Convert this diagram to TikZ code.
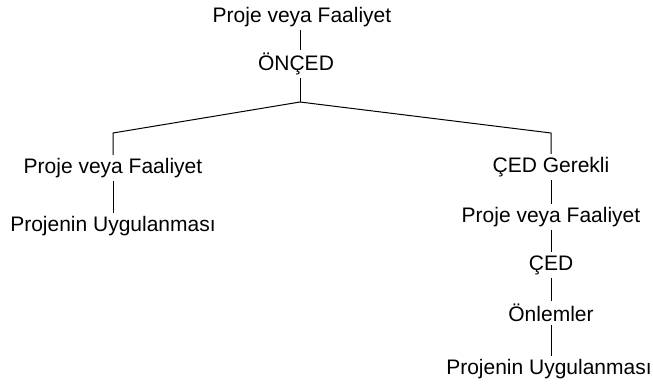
\documentclass[tikz,border=0pt]{standalone}
\usepackage{fontspec}
\setmainfont{Liberation Sans}
\usepackage{tikz}
\tikzset{kutu/.style={inner sep=3pt, font=\fontsize{21}{25}\selectfont},
	hat/.style={line width=1pt}}

\begin{document}
\begin{tikzpicture}[x=1pt,y=-1pt]
	\useasboundingbox (0,0) rectangle (653,389);
	% ust kisim
	\node[kutu] (proje) at (302,17) {Proje veya Faaliyet};
	\node[kutu] (onced) at (296,64) {ÖNÇED};
	\coordinate (tepe) at (300,102);
	\coordinate (solkose) at (113,133);
	\coordinate (sagkose) at (551,133);
	% sol kol
	\node[kutu] (solproje) at (113,168) {Proje veya Faaliyet};
	\node[kutu] (soluyg) at (113,226) {Projenin Uygulanması};
	% sag kol
	\node[kutu] (gerekli) at (551,167) {ÇED Gerekli};
	\node[kutu] (sagproje) at (551,217) {Proje veya Faaliyet};
	\node[kutu] (ced) at (551,265) {ÇED};
	\node[kutu] (onlem) at (551,313) {Önlemler};
	\node[kutu] (saguyg) at (549,369) {Projenin Uygulanması};
	% baglantilar
	\draw[hat] (tepe |- proje.south) -- (tepe |- onced.north);
	\draw[hat] (tepe |- onced.south) -- (tepe);
	\draw[hat] (tepe) -- (solkose) -- (solproje);
	\draw[hat] (tepe) -- (sagkose) -- (gerekli);
	\draw[hat] (solproje) -- (soluyg);
	\draw[hat] (gerekli) -- (sagproje);
	\draw[hat] (sagproje) -- (ced);
	\draw[hat] (ced) -- (onlem);
	\draw[hat] (onlem) -- (sagkose |- saguyg.north);
\end{tikzpicture}
\end{document}
